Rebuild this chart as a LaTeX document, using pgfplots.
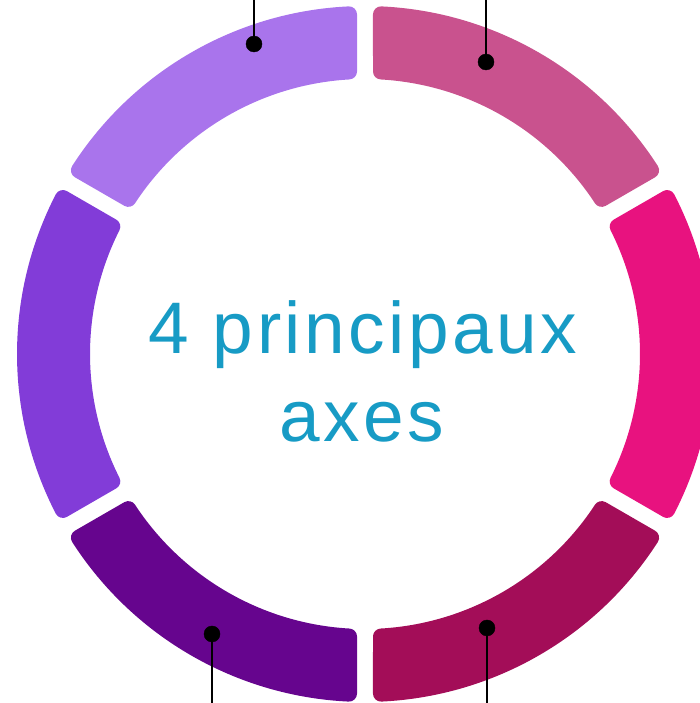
\documentclass[border=0pt]{standalone}
\usepackage{fontspec}
\setmainfont{Liberation Sans}
\newfontfamily\lsfont{Liberation Sans}[LetterSpace=4.8]
\usepackage{pgfplots}
\pgfplotsset{compat=1.18}
\definecolor{cTL}{HTML}{A974EC}
\definecolor{cTR}{HTML}{C9528E}
\definecolor{cR}{HTML}{E8127F}
\definecolor{cBR}{HTML}{A30D58}
\definecolor{cBL}{HTML}{66058E}
\definecolor{cL}{HTML}{823CD8}
\definecolor{cText}{HTML}{179BC5}
% ring segment with rounded corners: inset shape stroked with round joins
\newcommand{\seg}[3]{%
  \pgfmathsetmacro{\ao}{#2+2.697}%
  \pgfmathsetmacro{\bo}{#3-2.697}%
  \pgfmathsetmacro{\ai}{#2+3.241}%
  \pgfmathsetmacro{\bi}{#3-3.241}%
  \edef\tmpseg{\noexpand\filldraw[fill=#1, draw=#1, line width=16pt, line join=round]
    ([shift={(\ao:340pt)}]axis cs:365,349)
    arc[start angle=\ao, end angle=\bo, radius=340pt]
    -- ([shift={(\bi:283pt)}]axis cs:365,349)
    arc[start angle=\bi, end angle=\ai, radius=283pt]
    -- cycle;}%
  \tmpseg
}
\begin{document}
\begin{tikzpicture}
\begin{axis}[
  x=1pt, y=1pt,
  xmin=0, xmax=700, ymin=0, ymax=703,
  hide axis, clip=true,
]
\seg{cTL}{90}{150}
\seg{cTR}{30}{90}
\seg{cR}{-30}{30}
\seg{cBR}{-90}{-30}
\seg{cBL}{-150}{-90}
\seg{cL}{150}{210}
% leader lines
\addplot[black, line width=2.8pt, no marks] coordinates {(254,659) (254,710)};
\addplot[black, line width=2.8pt, no marks] coordinates {(486,641) (486,710)};
\addplot[black, line width=2.8pt, no marks] coordinates {(212,69) (212,-10)};
\addplot[black, line width=2.8pt, no marks] coordinates {(487,75) (487,-10)};
% dots
\addplot[only marks, mark=*, mark size=8pt, black] coordinates {(254,659) (486,641) (212,69) (487,75)};
\node[text=cText, anchor=base, font=\fontsize{73}{88}\lsfont] at (axis cs:363,349) {4 principaux};
\node[text=cText, anchor=base, font=\fontsize{73}{88}\lsfont] at (axis cs:362,261) {axes};
\end{axis}
\pgfresetboundingbox
\useasboundingbox (current axis.south west) rectangle (current axis.north east);
\end{tikzpicture}
\end{document}
